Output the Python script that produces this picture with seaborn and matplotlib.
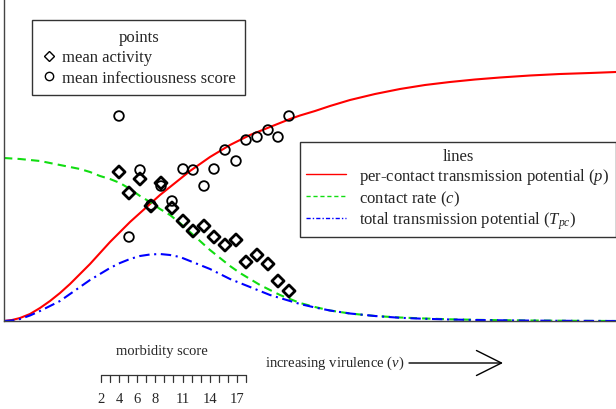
import matplotlib
matplotlib.use("Agg")
import matplotlib.pyplot as plt
from matplotlib.lines import Line2D
import pandas as pd
import seaborn as sns

sns.set_style("white")
plt.rcParams["font.family"] = ["Liberation Serif", "DejaVu Serif"]
plt.rcParams["mathtext.fontset"] = "custom"
plt.rcParams["mathtext.rm"] = "Liberation Serif"
plt.rcParams["mathtext.it"] = "Liberation Serif:italic"

# curves (arbitrary units: virulence 0..612, level 0..322)
virulence = [0, 8, 16, 26, 36, 46, 56, 66, 76, 86, 96, 106, 116, 126, 136, 146, 156, 166, 176, 186,
             196, 206, 216, 226, 236, 246, 256, 266, 276, 286, 296, 311, 326, 346, 371, 396, 421,
             446, 471, 496, 526, 556, 586, 612]
per_contact = [0, 1, 3, 7, 13, 20, 28, 37, 47, 57, 68, 79, 89, 99, 108, 117, 126, 134, 142, 150,
               157, 164, 170, 176, 181, 186, 190, 194, 198, 202, 205.5, 210, 215, 221, 227, 232, 236,
               239, 241.5, 243.5, 245.5, 247, 248, 249]
contact_rate = [163, 162.5, 162, 161, 160, 158, 156, 154, 152, 149, 145, 142, 138, 132, 125, 119,
                112, 106, 98, 89, 80, 71, 63, 55, 48, 42, 36, 31, 26, 22, 18, 14, 10.5, 7.5, 5, 3.5,
                2.5, 1.7, 1.2, 0.8, 0.5, 0.3, 0.1, 0]
total_tp = [0, 0.5, 2, 5.5, 10, 15, 20, 27, 34, 41, 47, 53, 58, 62, 65, 66.5, 67, 66, 64, 60,
            56, 52, 47, 42, 38, 34, 30, 26, 23, 20, 17, 13.5, 10.5, 7.5, 5, 3.2, 2.2, 1.5, 1, 0.7,
            0.4, 0.2, 0.1, 0]

# points, one per morbidity score
point_x = [115, 125, 136, 147, 157, 168, 179, 189, 200, 210, 221, 232, 242, 253, 264, 274, 285]
mean_activity = [149, 128, 142, 115, 138, 113, 100, 90, 95, 84, 76, 81, 59, 66, 57, 40, 30]
mean_infect = [205, 84, 151, 116, 135, 120, 152, 151, 135, 152, 171, 160, 181, 184, 191, 184, 205]

morbidity_ticks = list(range(2, 19))
morbidity_labels = [2, 4, 6, 8, 11, 14, 17]

curves = pd.DataFrame({"v": virulence, "p": per_contact, "c": contact_rate, "T": total_tp})
pts = pd.DataFrame({"v": point_x, "act": mean_activity, "inf": mean_infect})

fig = plt.figure(figsize=(6.16, 4.10), dpi=100)
ax = fig.add_axes([4 / 616, 88 / 410, 612 / 616, 322 / 410])

sns.lineplot(data=curves, x="v", y="p", color="#ff0000", lw=1.5, ax=ax)
sns.lineplot(data=curves, x="v", y="c", color="#11dd11", lw=1.5, ax=ax, linestyle=(0, (4, 2.5)))
sns.lineplot(data=curves, x="v", y="T", color="#0000ff", lw=1.5, ax=ax, linestyle=(0, (5, 2.2, 1, 2.2)))

sns.scatterplot(data=pts, x="v", y="act", marker="D", s=38, facecolor="none",
                edgecolor="black", linewidth=2, ax=ax, zorder=5)
sns.scatterplot(data=pts, x="v", y="inf", marker="o", s=48, facecolor="none",
                edgecolor="black", linewidth=1.3, ax=ax, zorder=5)

ax.set_xlim(0, 612)
ax.set_ylim(0, 322)
ax.set_xlabel("")
ax.set_ylabel("")
ax.set_xticks([])
ax.set_yticks([])
for side in ["top", "right"]:
    ax.spines[side].set_visible(False)
for side in ["left", "bottom"]:
    ax.spines[side].set_color("#444444")
    ax.spines[side].set_linewidth(1.0)

# legends
pt_handles = [Line2D([], [], marker="D", ls="none", mfc="none", mec="black", ms=5, mew=1),
              Line2D([], [], marker="o", ls="none", mfc="none", mec="black", ms=6, mew=1)]
leg1 = ax.legend(pt_handles, ["mean activity", "mean infectiousness score"], title="points",
                 loc="upper left", bbox_to_anchor=(0.046, 0.935), fontsize=12, title_fontsize=12,
                 fancybox=False, framealpha=1, edgecolor="#333333", handlelength=0.9,
                 handletextpad=0.35, borderpad=0.55, labelspacing=0.26, borderaxespad=0)
leg1.get_frame().set_linewidth(1.0)
ax.add_artist(leg1)

ln_handles = [Line2D([], [], color="#ff0000", lw=1),
              Line2D([], [], color="#11dd11", lw=1, ls=(0, (3, 2))),
              Line2D([], [], color="#0000ff", lw=1, ls=(0, (3, 1.5, 1, 1.5)))]
leg2 = ax.legend(ln_handles, ["per-contact transmission potential ($p$)", "contact rate ($c$)",
                              "total transmission potential ($T_{pc}$)"], title="lines",
                 loc="upper right", bbox_to_anchor=(1.0, 0.556), fontsize=12, title_fontsize=12,
                 fancybox=False, framealpha=1, edgecolor="#333333", handlelength=2.4,
                 handletextpad=0.8, borderpad=0.38, labelspacing=0.12, borderaxespad=0)
leg2.get_frame().set_linewidth(1.0)

# below the axes: morbidity scale and virulence arrow
ax.text(158, -30, "morbidity score", ha="center", va="center", fontsize=10.5, clip_on=False)
ax.text(261, -41, "increasing virulence ($v$)", ha="left", va="center", fontsize=10.5, clip_on=False)
ax.annotate("", xy=(499, -42), xytext=(405, -42), xycoords="data",
            arrowprops=dict(arrowstyle="->,head_length=0.9,head_width=0.45", lw=1.0, color="black",
                            mutation_scale=20, shrinkA=0, shrinkB=0),
            annotation_clip=False)

tick_pos = [97 + (t - 2) * 9.06 for t in morbidity_ticks]
ax.plot([tick_pos[0], tick_pos[-1]], [-54, -54], color="#333333", lw=0.9, clip_on=False)
for tp in tick_pos:
    ax.plot([tp, tp], [-54, -61], color="#333333", lw=0.9, clip_on=False)
for lab in morbidity_labels:
    ax.text(tick_pos[lab - 2], -78, str(lab), ha="center", va="center", fontsize=10.5, clip_on=False)

fig.savefig("out.png", dpi=100)
